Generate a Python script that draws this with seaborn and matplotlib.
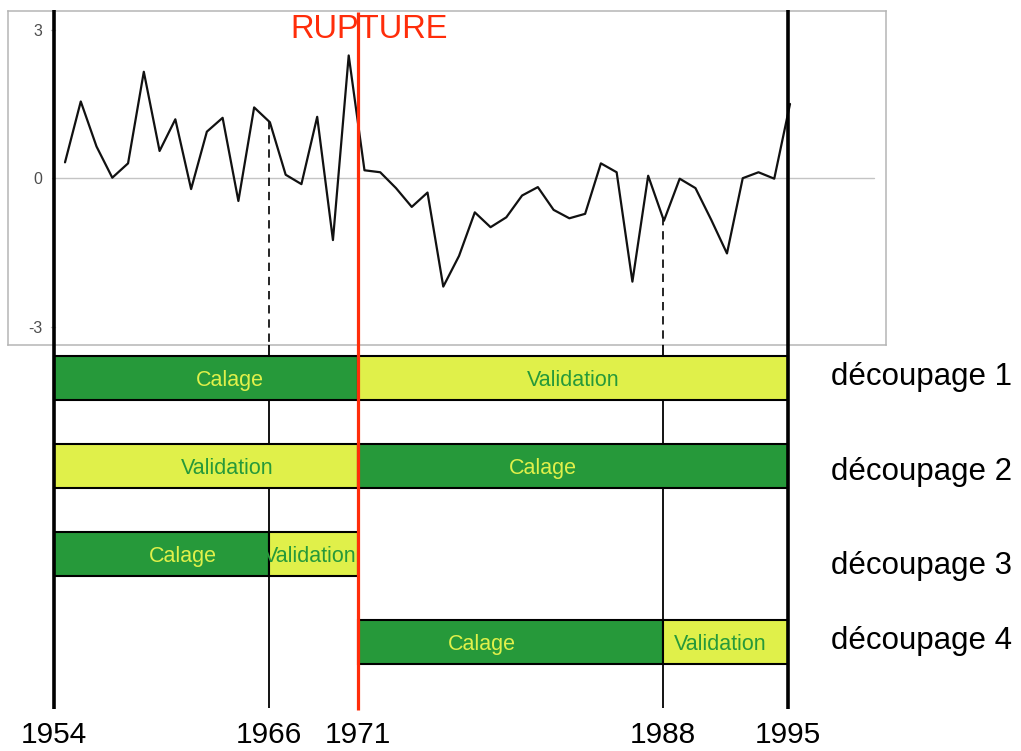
import numpy as np
import matplotlib
matplotlib.use("Agg")
import matplotlib.pyplot as plt
import seaborn as sns

# ---- data -------------------------------------------------------------
# standardised series (one value per time step)
series = [0.32, 1.55, 0.64, 0.01, 0.30, 2.15, 0.55, 1.19, -0.22, 0.94,
          1.22, -0.46, 1.43, 1.13, 0.07, -0.12, 1.24, -1.25, 2.48, 0.16,
          0.12, -0.20, -0.58, -0.29, -2.19, -1.57, -0.69, -0.99, -0.79, -0.35,
          -0.18, -0.64, -0.81, -0.72, 0.30, 0.12, -2.09, 0.05, -0.86, -0.01,
          -0.20, -0.84, -1.52, 0.00, 0.12, -0.01, 1.50]
steps = list(range(len(series)))

key_years = [1954, 1966, 1971, 1988, 1995]
rupture_year = 1971
split_years = [1966, 1988]

# splittings: (row, start, end, role)
split_rows = [0, 0, 1, 1, 2, 2, 3, 3]
split_start = [1954, 1971, 1954, 1971, 1954, 1966, 1971, 1988]
split_end = [1971, 1995, 1971, 1995, 1966, 1971, 1988, 1995]
split_role = ["Calage", "Validation", "Validation", "Calage",
              "Calage", "Validation", "Calage", "Validation"]
row_names = ["découpage 1", "découpage 2", "découpage 3", "découpage 4"]

# ---- layout / style ---------------------------------------------------
label_x = [1963.8, 1983.0, 1963.7, 1981.3, 1961.2, 1968.3, 1977.9, 1991.2]
label_dy = 0.035
row_label_y = [-0.01, 1.07, 2.14, 2.99]
GREEN = "#26993A"
YELLOW = "#E0F04A"
RED = "#FF2D0A"

sns.set_theme(style="white")
plt.rcParams["font.family"] = ["Liberation Sans", "DejaVu Sans"]

W, H = 1021, 751
fig = plt.figure(figsize=(W / 100, H / 100), dpi=100)
fig.patch.set_facecolor("white")

# top panel: time series in a grey frame
ax_ts = fig.add_axes([8 / W, 1 - 345 / H, 878 / W, 334 / H])
ax_ts.set_facecolor("white")
for s in ax_ts.spines.values():
    s.set_color("#B5B5B5")
    s.set_linewidth(1.1)
ax_ts.set_xlim(-3.617, 52.09)
ax_ts.set_ylim(-3.370, 3.378)
ax_ts.axhline(0, xmin=0.050, xmax=0.986, color="#C4C4C4", lw=1.0, zorder=1)
for yv in (-3, 3):
    ax_ts.axhline(yv, xmin=0.049, xmax=0.053, color="#C4C4C4", lw=1.0)
sns.lineplot(x=steps, y=series, ax=ax_ts, color="#111111", lw=1.6, zorder=3)
ax_ts.set_xticks([])
ax_ts.set_yticks([-3, 0, 3])
ax_ts.set_yticklabels(["-3", "0", "3"])
ax_ts.tick_params(axis="y", direction="in", length=0, pad=-24.5,
                  labelsize=11.5, labelcolor="#4D4D4D")
ax_ts.set_xlabel("")
ax_ts.set_ylabel("")

# overlay: splitting diagram on a year axis
ax = fig.add_axes([0, 0, 1, 1], zorder=ax_ts.get_zorder() + 1)
ax.patch.set_alpha(0)
ax.set_xlim(1950.984, 2008.02)
ax.set_ylim(4.2443, -4.2898)
ax.axis("off")

# dashed drops from the curve to the frame bottom
fig.canvas.draw()
for yr in split_years:
    disp = ax.transData.transform((yr, 0))
    idx = ax_ts.transData.inverted().transform(disp)[0]
    top = np.interp(idx, steps, series)
    ax_ts.plot([idx, idx], [top, ax_ts.get_ylim()[0]], color="black",
               lw=1.2, ls=(0, (5, 3.5)), zorder=2)

# thin vertical guides below the frame
ax.vlines(split_years, -0.369, 3.756, color="black", lw=1.3, zorder=1)

# bars
for r, a, b, role in zip(split_rows, split_start, split_end, split_role):
    ax.barh(r, b - a, left=a, height=0.5,
            color=GREEN if role == "Calage" else YELLOW,
            edgecolor="black", linewidth=1.5, zorder=2)
for r, role, lx in zip(split_rows, split_role, label_x):
    ax.text(lx, r + label_dy, role, ha="center", va="center", fontsize=15.5,
            color=YELLOW if role == "Calage" else GREEN, zorder=4)

# bounding years and rupture
ax.vlines([key_years[0], key_years[-1]], -4.176, 3.767, color="black",
          lw=2.6, zorder=5)
ax.vlines([rupture_year], -4.153, 3.778, color=RED, lw=2.3, zorder=6)
ax.annotate("RUPTURE", xy=(rupture_year, -3.95), xytext=(8, 0),
            textcoords="offset points", ha="center", va="center",
            fontsize=23.5, color=RED, zorder=7)

# year labels
for yr in key_years:
    ax.text(yr, 4.225, str(yr), ha="center", va="bottom", fontsize=21.5,
            color="black")

# row names
for name, yv in zip(row_names, row_label_y):
    ax.text(1997.4, yv, name, ha="left", va="center", fontsize=22.5,
            color="black")

fig.savefig("out.png", dpi=100, facecolor="white")
